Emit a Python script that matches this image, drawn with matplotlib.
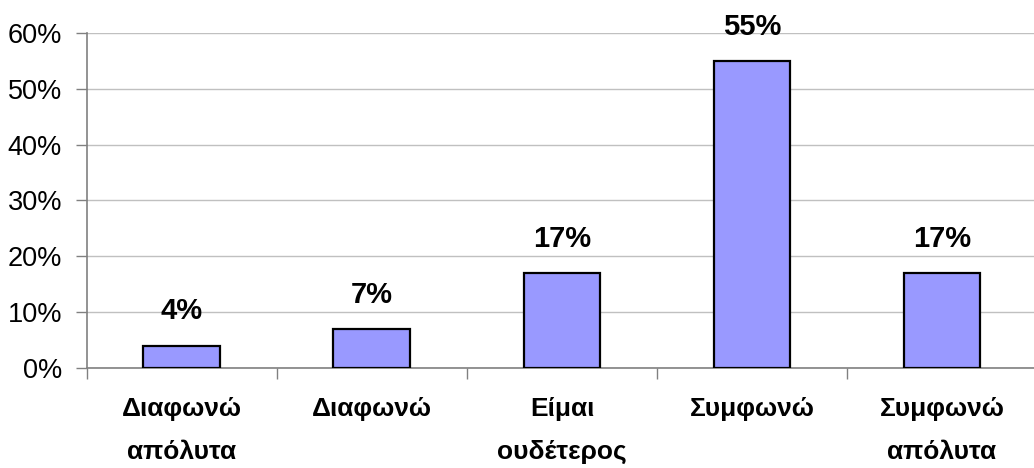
import numpy as np
import matplotlib.pyplot as plt

plt.rcParams['font.family'] = ['Liberation Sans', 'DejaVu Sans']

# survey answers and their shares (%)
categories = ['Διαφωνώ\nαπόλυτα', 'Διαφωνώ', 'Είμαι\nουδέτερος', 'Συμφωνώ', 'Συμφωνώ\nαπόλυτα']
shares = [4, 7, 17, 55, 17]
y_ticks = [0, 10, 20, 30, 40, 50, 60]

fig = plt.figure(figsize=(10.34, 4.68), dpi=100)
ax = fig.add_axes([0.0841, 0.2137, 0.9188, 0.7158])

x = np.arange(len(categories))
bars = ax.bar(x, shares, width=0.405, color='#9999FF', edgecolor='black', linewidth=1.6, zorder=3)

for b, v in zip(bars, shares):
    ax.text(b.get_x() + b.get_width() / 2, v + 4.7, f'{v}%', ha='center', va='baseline',
            fontsize=21, fontweight='bold')

ax.set_xlim(-0.5, len(categories) - 0.5)
ax.set_ylim(0, 60)
ax.set_yticks(y_ticks)
ax.set_yticklabels([f'{t}%' for t in y_ticks], fontsize=19.5)
ax.yaxis.grid(True, color='#c0c0c0', linewidth=1.0, zorder=0)

# category labels sit between boundary ticks
ax.set_xticks(np.arange(len(categories) + 1) - 0.5)
ax.set_xticklabels([])
ax.set_xticks(x, minor=True)
ax.set_xticklabels(categories, minor=True, fontsize=19, fontweight='bold', linespacing=2.0)
ax.tick_params(axis='x', which='minor', length=0, pad=21)
ax.tick_params(axis='x', which='major', length=8, color='#808080', width=1)
ax.tick_params(axis='y', length=8, color='#808080', width=1, pad=10)

for s in ['top', 'right']:
    ax.spines[s].set_visible(False)
for s in ['left', 'bottom']:
    ax.spines[s].set_color('#808080')
    ax.spines[s].set_linewidth(1.2)

fig.savefig('out.png', dpi=100)
